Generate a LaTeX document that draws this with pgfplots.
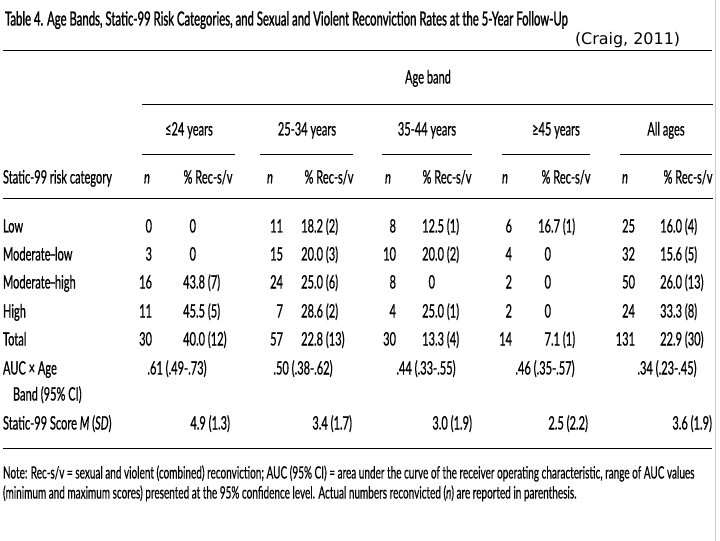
\documentclass[border=0pt]{standalone}
\usepackage{pgfplots}
\usepackage{fontspec}
\pgfplotsset{compat=1.18}
\setmainfont{Lato}[FakeStretch=0.6, FakeBold=0.6]
\newfontfamily\ttlfont{Lato}[FakeStretch=0.584, FakeBold=1.2]
\newfontfamily\notefont{Lato}[FakeStretch=0.59, FakeBold=0.3]
\newfontfamily\craigfont{DejaVu Sans}
\newcommand{\body}{\fontsize{18.5}{20}\selectfont}
\newcommand{\ttl}{\ttlfont\fontsize{19.5}{21}\selectfont}
\newcommand{\nte}{\notefont\fontsize{17}{19}\selectfont}

% row baselines (pixel space, y down)
\def\yLow{232}\def\yML{260}\def\yMH{288}\def\yHi{317}\def\yTot{345}
\def\yAUC{374}\def\yBand{400}\def\ySc{429}

\begin{document}
\body
\begin{tikzpicture}[every node/.style={inner sep=0pt, outer sep=0pt}]
\begin{axis}[
    width=720bp, height=540bp, scale only axis,
    xmin=0, xmax=720, ymin=0, ymax=540, y dir=reverse,
    axis lines=none, clip=false,
    axis background/.style={fill=white},
  ]
  % rules
  \addplot[black, line width=1.3bp] coordinates {(3,50) (712,50)};
  \addplot[black, line width=1.3bp] coordinates {(142,104) (713,104)};
  \addplot[black, line width=1.3bp] coordinates {(142,154) (235,154)};
  \addplot[black, line width=1.3bp] coordinates {(260,154) (353,154)};
  \addplot[black, line width=1.3bp] coordinates {(382,154) (472,154)};
  \addplot[black, line width=1.3bp] coordinates {(502,154) (590,154)};
  \addplot[black, line width=1.3bp] coordinates {(620,154) (712,154)};
  \addplot[black, line width=1.3bp] coordinates {(3,198) (713,198)};
  \addplot[black, line width=1.3bp] coordinates {(3,448) (712,448)};
  \addplot[black!20, line width=1bp] coordinates {(715,0) (715,540)};

  % title
  \node[anchor=base west, font=\ttl] at (axis cs:5,25)
    {Table 4. Age Bands, Static-99 Risk Categories, and Sexual and Violent Reconviction Rates at the 5-Year Follow-Up};
  \node[anchor=base west, font=\craigfont\fontsize{16}{18}\selectfont] at (axis cs:575,44) {(Craig, 2011)};

  % header
  \node[anchor=base, font=\body] at (axis cs:428,83) {Age band};
  \node[anchor=base, font=\body] at (axis cs:189,135) {≤24 years};
  \node[anchor=base, font=\body] at (axis cs:307,135) {25-34 years};
  \node[anchor=base, font=\body] at (axis cs:427,135) {35-44 years};
  \node[anchor=base, font=\body] at (axis cs:556,135) {≥45 years};
  \node[anchor=base, font=\body] at (axis cs:666,135) {All ages};
  \node[anchor=base west, font=\body] at (axis cs:3,183) {Static-99 risk category};
  \pgfplotsextra{
    \foreach \x in {147,270,388,505,625}
      \node[anchor=base, font=\body] at (axis cs:\x,183) {\textit{n}};
    \foreach \x in {208,329,447,566,688}
      \node[anchor=base, font=\body] at (axis cs:\x,183) {\% Rec-s/v};
  }

  % row labels
  \node[anchor=base west, font=\body] at (axis cs:3,\yLow) {Low};
  \node[anchor=base west, font=\body] at (axis cs:3,\yML) {Moderate\kern-1pt--\kern-1pt low};
  \node[anchor=base west, font=\body] at (axis cs:3,\yMH) {Moderate\kern-1pt--\kern-1pt high};
  \node[anchor=base west, font=\body] at (axis cs:3,\yHi) {High};
  \node[anchor=base west, font=\body] at (axis cs:3,\yTot) {Total};
  \node[anchor=base west, font=\body] at (axis cs:3,\yAUC) {AUC × Age};
  \node[anchor=base west, font=\body] at (axis cs:13,\yBand) {Band (95\% CI)};
  \node[anchor=base west, font=\body] at (axis cs:3,\ySc) {Static-99 Score \textit{M} (\textit{SD})};

  \pgfplotsextra{
    % n columns (right aligned)
    \foreach \x/\a/\b/\c/\d/\e in {152/0/3/16/11/30, 283/11/15/24/7/57, 396/8/10/8/4/30, 512/6/4/2/2/14, 635/25/32/50/24/131} {
      \node[anchor=base east, font=\body] at (axis cs:\x,\yLow) {\a};
      \node[anchor=base east, font=\body] at (axis cs:\x,\yML) {\b};
      \node[anchor=base east, font=\body] at (axis cs:\x,\yMH) {\c};
      \node[anchor=base east, font=\body] at (axis cs:\x,\yHi) {\d};
      \node[anchor=base east, font=\body] at (axis cs:\x,\yTot) {\e};
    }
    % percentage columns (aligned on the decimal point)
    \foreach \x/\y/\i/\r in {
        196/\yLow/0/, 196/\yML/0/, 196/\yMH/43/.8 (7), 196/\yHi/45/.5 (5), 196/\yTot/40/.0 (12),
        314/\yLow/18/.2 (2), 314/\yML/20/.0 (3), 314/\yMH/25/.0 (6), 314/\yHi/28/.6 (2), 314/\yTot/22/.8 (13),
        435/\yLow/12/.5 (1), 435/\yML/20/.0 (2), 435/\yMH/0/, 435/\yHi/25/.0 (1), 435/\yTot/13/.3 (4),
        551/\yLow/16/.7 (1), 551/\yML/0/, 551/\yMH/0/, 551/\yHi/0/, 551/\yTot/7/.1 (1),
        673/\yLow/16/.0 (4), 673/\yML/15/.6 (5), 673/\yMH/26/.0 (13), 673/\yHi/33/.3 (8), 673/\yTot/22/.9 (30)} {
      \node[anchor=base east, font=\body] at (axis cs:\x,\y) {\i};
      \node[anchor=base west, font=\body] at (axis cs:\x,\y) {\r};
    }
  }

  % AUC row
  \node[anchor=base, font=\body] at (axis cs:177,\yAUC) {.61 (.49-.73)};
  \node[anchor=base, font=\body] at (axis cs:303,\yAUC) {.50 (.38-.62)};
  \node[anchor=base, font=\body] at (axis cs:426,\yAUC) {.44 (.33-.55)};
  \node[anchor=base, font=\body] at (axis cs:545,\yAUC) {.46 (.35-.57)};
  \node[anchor=base, font=\body] at (axis cs:667,\yAUC) {.34 (.23-.45)};

  % Static-99 score row
  \node[anchor=base east, font=\body] at (axis cs:230,\ySc) {4.9 (1.3)};
  \node[anchor=base east, font=\body] at (axis cs:352,\ySc) {3.4 (1.7)};
  \node[anchor=base east, font=\body] at (axis cs:472,\ySc) {3.0 (1.9)};
  \node[anchor=base east, font=\body] at (axis cs:588,\ySc) {2.5 (2.2)};
  \node[anchor=base east, font=\body] at (axis cs:712,\ySc) {3.6 (1.9)};

  % note
  \node[anchor=base west, font=\nte] at (axis cs:3,478)
    {Note: Rec-s/v = sexual and violent (combined) reconviction; AUC (95\% CI) = area under the curve of the receiver operating characteristic, range of AUC values};
  \node[anchor=base west, font=\nte] at (axis cs:3,498)
    {(minimum and maximum scores) presented at the 95\% confidence level. Actual numbers reconvicted (\textit{n}) are reported in parenthesis.};
\end{axis}
\end{tikzpicture}
\end{document}
